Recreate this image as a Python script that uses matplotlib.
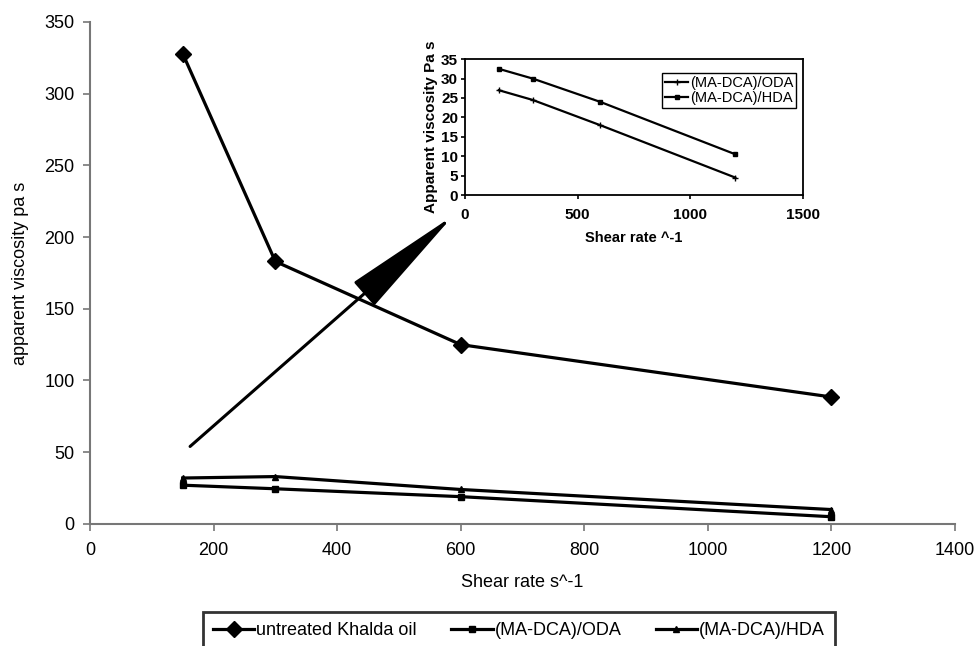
import numpy as np
import matplotlib
matplotlib.use("Agg")
import matplotlib.pyplot as plt

plt.rcParams['font.family'] = ['Liberation Sans', 'DejaVu Sans']

# Data
shear_rate = [150, 300, 600, 1200]
khalda = [328, 183, 125, 88.5]
oda = [27, 24.5, 19, 5]
hda = [32, 33, 24, 10]

# inset data
inset_oda = [27, 24.5, 18, 4.5]
inset_hda = [32.5, 30, 24, 10.5]

x_ticks = [0, 200, 400, 600, 800, 1000, 1200, 1400]
y_ticks = [0, 50, 100, 150, 200, 250, 300, 350]

fig = plt.figure(figsize=(9.76, 6.46), dpi=100)
ax = fig.add_axes([0.0922, 0.189, 0.8863, 0.777])

lw = 2.3
ax.plot(shear_rate, khalda, color='black', lw=lw, marker='D', ms=8,
        label='untreated Khalda oil')
ax.plot(shear_rate, oda, color='black', lw=lw, marker='s', ms=4,
        label='(MA-DCA)/ODA')
ax.plot(shear_rate, hda, color='black', lw=lw, marker='^', ms=5,
        label='(MA-DCA)/HDA')

ax.set_xlim(0, 1400)
ax.set_ylim(0, 350)
ax.set_xticks(x_ticks)
ax.set_yticks(y_ticks)
ax.tick_params(labelsize=13, length=5, color='#777777', width=1.2)
ax.tick_params(axis='x', pad=8)
ax.tick_params(axis='y', pad=6)
for s in ['top', 'right']:
    ax.spines[s].set_visible(False)
for s in ['left', 'bottom']:
    ax.spines[s].set_color('#777777')
    ax.spines[s].set_linewidth(1.5)
ax.set_xlabel('Shear rate s^-1', fontsize=13, labelpad=11)
ax.set_ylabel('apparent viscosity pa s', fontsize=13, labelpad=11)

# big arrow pointing to the inset
ax.annotate('', xy=(588, 215), xytext=(162, 54),
            arrowprops=dict(arrowstyle='-|>,head_length=3.8,head_width=0.5',
                            mutation_scale=20, color='black', lw=2.2,
                            shrinkA=0, shrinkB=0))

leg = fig.legend(loc='upper left', bbox_to_anchor=(203 / 976, (646 - 612) / 646),
                 ncol=3, fontsize=13, frameon=True, fancybox=False,
                 edgecolor='black', handlelength=2.3, handletextpad=0.1,
                 columnspacing=1.9, borderpad=0.55, borderaxespad=0)
leg.get_frame().set_linewidth(2)

# inset
ins = fig.add_axes([0.4764, 0.698, 0.3463, 0.2105])
ins.plot(shear_rate, inset_oda, color='black', lw=1.6, marker='+', ms=4,
         label='(MA-DCA)/ODA')
ins.plot(shear_rate, inset_hda, color='black', lw=1.6, marker='s', ms=3.5,
         label='(MA-DCA)/HDA')
ins.set_xlim(0, 1500)
ins.set_ylim(0, 35)
ins.set_xticks([0, 500, 1000, 1500])
ins.set_yticks(range(0, 36, 5))
ins.tick_params(labelsize=11, length=3, width=1.2, pad=2)
ins.tick_params(axis='x', pad=6)
for lab in ins.get_xticklabels() + ins.get_yticklabels():
    lab.set_fontweight('bold')
for s in ins.spines.values():
    s.set_linewidth(1.3)
ins.set_xlabel('Shear rate ^-1', fontsize=10.5, fontweight='bold', labelpad=7)
ins.set_ylabel('Apparent viscosity Pa s', fontsize=11, fontweight='bold', labelpad=2)
ins.legend(loc='upper right', bbox_to_anchor=(0.98, 0.90), fontsize=10.5,
           fancybox=False, edgecolor='black', framealpha=1, handlelength=1.6,
           handletextpad=0.1, borderpad=0.2, labelspacing=0.1,
           borderaxespad=0).get_frame().set_linewidth(1)

fig.savefig('out.png', dpi=100)
